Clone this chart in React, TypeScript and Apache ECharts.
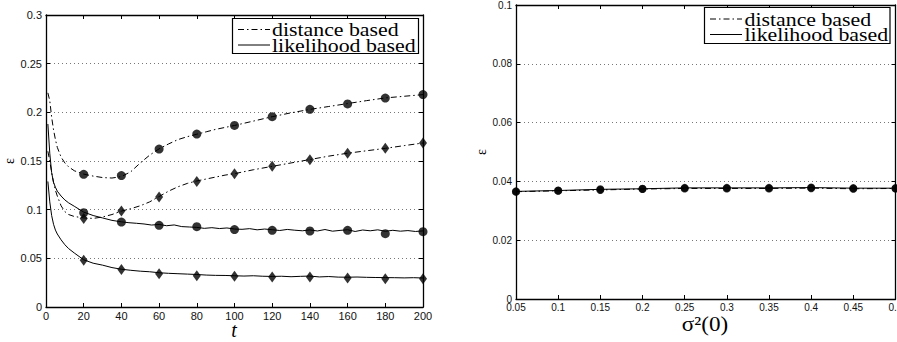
import React, { useEffect, useRef } from "react";
import * as echarts from "echarts";

// ---------- Left panel: error vs t ----------
const T_X_TICKS = [0, 20, 40, 60, 80, 100, 120, 140, 160, 180, 200];

// distance based, upper curve (circles)
const T_DIST = [1, 2, 3, 4, 5, 6, 8, 10, 12, 15, 20, 25, 30, 35, 40, 45, 50, 55, 60, 65, 70, 75, 80, 85, 90, 95, 100, 110, 120, 130, 140, 150, 160, 170, 180, 190, 200];
const DIST_UPPER = [0.220, 0.212, 0.195, 0.182, 0.172, 0.164, 0.154, 0.148, 0.144, 0.140, 0.1365, 0.1345, 0.133, 0.1325, 0.134, 0.139, 0.148, 0.156, 0.1625, 0.1675, 0.172, 0.175, 0.1775, 0.180, 0.1825, 0.1845, 0.1865, 0.191, 0.1955, 0.1995, 0.203, 0.206, 0.209, 0.212, 0.2148, 0.2165, 0.2182];
// distance based, lower curve (diamonds)
const DIST_LOWER = [0.160, 0.150, 0.138, 0.128, 0.120, 0.114, 0.104, 0.098, 0.095, 0.093, 0.0915, 0.091, 0.0925, 0.095, 0.0985, 0.101, 0.104, 0.108, 0.1135, 0.119, 0.1235, 0.127, 0.1295, 0.1315, 0.1335, 0.1355, 0.137, 0.141, 0.1445, 0.148, 0.1515, 0.155, 0.158, 0.1605, 0.163, 0.1658, 0.1685];

// likelihood based, upper curve (circles)
const T_LIK_UPPER = [1, 2, 3, 4, 5, 6, 8, 10, 12, 15, 20, 25, 30, 35, 40, 44, 48, 52, 56, 60, 64, 68, 72, 76, 80, 84, 88, 92, 96, 100, 104, 108, 112, 116, 120, 124, 128, 132, 136, 140, 144, 148, 152, 156, 160, 164, 168, 172, 176, 180, 184, 188, 192, 196, 200];
const LIK_UPPER = [0.188, 0.158, 0.138, 0.128, 0.123, 0.119, 0.114, 0.110, 0.107, 0.1035, 0.0975, 0.094, 0.0915, 0.089, 0.0875, 0.0866, 0.0860, 0.0853, 0.0842, 0.0848, 0.0835, 0.0843, 0.0826, 0.0822, 0.0818, 0.0808, 0.0815, 0.0806, 0.0812, 0.0801, 0.0798, 0.0805, 0.0793, 0.0801, 0.0794, 0.0786, 0.0797, 0.0789, 0.0783, 0.0792, 0.0781, 0.0796, 0.0779, 0.0787, 0.0794, 0.0776, 0.0791, 0.0783, 0.0793, 0.0778, 0.0788, 0.0779, 0.0785, 0.0776, 0.0782];

// likelihood based, lower curve (diamonds)
const T_LIK_LOWER = [1, 2, 3, 4, 5, 6, 8, 10, 12, 15, 20, 25, 30, 35, 40, 45, 50, 55, 60, 65, 70, 75, 80, 85, 90, 95, 100, 105, 110, 115, 120, 125, 130, 135, 140, 145, 150, 155, 160, 165, 170, 175, 180, 185, 190, 195, 200];
const LIK_LOWER = [0.129, 0.108, 0.094, 0.085, 0.079, 0.075, 0.069, 0.064, 0.060, 0.0555, 0.0485, 0.045, 0.043, 0.0405, 0.0388, 0.0377, 0.0368, 0.0362, 0.0352, 0.0346, 0.0342, 0.0338, 0.0334, 0.0328, 0.0325, 0.0324, 0.0321, 0.0318, 0.0321, 0.0316, 0.0314, 0.0316, 0.0311, 0.0315, 0.0318, 0.0309, 0.0313, 0.0307, 0.0306, 0.0308, 0.0305, 0.0303, 0.0302, 0.0301, 0.0299, 0.0301, 0.0298];

// marker positions
const T_MARK = [20, 40, 60, 80, 100, 120, 140, 160, 180, 200];
const DIST_UPPER_MARK = [0.1363, 0.135, 0.1623, 0.1777, 0.1866, 0.1955, 0.2031, 0.2086, 0.2147, 0.2182];
const DIST_LOWER_MARK = [0.0908, 0.0986, 0.113, 0.129, 0.137, 0.1445, 0.1514, 0.158, 0.163, 0.1685];
const LIK_UPPER_MARK = [0.0969, 0.0873, 0.0839, 0.0825, 0.0795, 0.0788, 0.0781, 0.0788, 0.0753, 0.0774];
const LIK_LOWER_MARK = [0.048, 0.0384, 0.0342, 0.0322, 0.0315, 0.0308, 0.0308, 0.0298, 0.0291, 0.0291];

// ---------- Right panel: error vs sigma^2(0) ----------
const SIGMA0 = [0.05, 0.1, 0.15, 0.2, 0.25, 0.3, 0.35, 0.4, 0.45, 0.5];
const DIST_SIGMA = [0.0365, 0.0368, 0.0371, 0.0374, 0.0376, 0.0376, 0.0376, 0.0377, 0.0375, 0.0376];
const LIK_SIGMA = [0.0366, 0.0369, 0.0373, 0.0375, 0.0378, 0.0378, 0.0378, 0.0379, 0.0377, 0.0377];

const LEGEND_LABELS = ["distance based", "likelihood based"];

const zip = (xs: number[], ys: number[]) => xs.map((x, i) => [x, ys[i]]);
const fmt = (v: number) => String(parseFloat(v.toFixed(2)));

const DASHDOT = [6, 3, 1.5, 3];
const FRAME = { color: "#000", width: 1.3 };
const SERIF = "'Liberation Serif', 'Times New Roman', serif";
const SANS = "'Liberation Sans', Arial, sans-serif";

function App() {
  const ref = useRef<HTMLDivElement>(null);
  useEffect(() => {
    if (!ref.current) return;
    const chart = echarts.init(ref.current, undefined, { renderer: "svg" });

    const tick = { inside: true, length: 4, lineStyle: { color: "#000", width: 1 } };
    const mainX = (grid: number, min: number, max: number, interval: number, fontSize: number) => ({
      gridIndex: grid,
      type: "value",
      min,
      max,
      interval,
      axisLine: { onZero: false, lineStyle: FRAME },
      axisTick: tick,
      axisLabel: { color: "#111", fontSize, fontFamily: SANS, margin: 3, formatter: fmt, hideOverlap: false },
      splitLine: { show: false },
    });
    const topX = (grid: number, min: number, max: number, interval: number) => ({
      gridIndex: grid,
      type: "value",
      position: "top",
      min,
      max,
      interval,
      axisLine: { onZero: false, lineStyle: FRAME },
      axisTick: tick,
      axisLabel: { show: false },
      splitLine: { show: false },
    });
    const mainY = (grid: number, min: number, max: number, interval: number, fontSize: number, gap: number) => ({
      gridIndex: grid,
      type: "value",
      min,
      max,
      interval,
      name: "ε",
      nameLocation: "middle",
      nameGap: gap,
      nameRotate: 90,
      nameTextStyle: { fontSize: 14, fontFamily: SERIF, color: "#000" },
      axisLine: { onZero: false, lineStyle: FRAME },
      axisTick: tick,
      axisLabel: { color: "#111", fontSize, fontFamily: SANS, margin: 4, formatter: fmt, hideOverlap: false },
      splitLine: { show: true, lineStyle: { color: "#777", width: 1, type: [1, 3] } },
    });
    const rightY = (grid: number, min: number, max: number, interval: number) => ({
      gridIndex: grid,
      type: "value",
      position: "right",
      min,
      max,
      interval,
      axisLine: { onZero: false, lineStyle: FRAME },
      axisTick: tick,
      axisLabel: { show: false },
      splitLine: { show: false },
    });

    const line = (xi: number, data: number[][], dashed: boolean) => ({
      type: "line",
      xAxisIndex: xi,
      yAxisIndex: xi,
      data,
      showSymbol: false,
      symbol: "none",
      lineStyle: { color: "#000", width: 1, type: dashed ? DASHDOT : "solid" },
      z: 3,
    });
    const marks = (xi: number, data: number[][], symbol: string, size: any) => ({
      type: "scatter",
      xAxisIndex: xi,
      yAxisIndex: xi,
      data,
      symbol,
      symbolSize: size,
      itemStyle: { color: "#000" },
      z: 4,
    });

    const legendText = (x: number, y: number, text: string) => ({
      type: "text",
      x,
      y,
      scaleX: 1.12,
      style: { text, fontSize: 19.5, fontFamily: SERIF, fill: "#000", align: "left", verticalAlign: "middle", lineHeight: 16 },
      z: 11,
    });
    const legend = (x0: number, y0: number, w: number, h: number, row1: number, row2: number, lx1: number, lx2: number, tx: number) => [
      { type: "rect", shape: { x: x0, y: y0, width: w, height: h }, style: { fill: "#fff", stroke: "#000", lineWidth: 1.2 }, z: 10 },
      { type: "line", shape: { x1: lx1, y1: row1, x2: lx2, y2: row1 }, style: { stroke: "#000", lineWidth: 1, lineDash: DASHDOT }, z: 11 },
      { type: "line", shape: { x1: lx1, y1: row2, x2: lx2, y2: row2 }, style: { stroke: "#000", lineWidth: 1 }, z: 11 },
      legendText(tx, row1, LEGEND_LABELS[0]),
      legendText(tx, row2, LEGEND_LABELS[1]),
    ];

    chart.setOption({
      animation: false,
      backgroundColor: "#fff",
      grid: [
        { left: 46, top: 15, width: 377, height: 292, containLabel: false, outerBoundsMode: "none" },
        { left: 516, top: 5, width: 379.5, height: 294, containLabel: false, outerBoundsMode: "none" },
      ],
      xAxis: [
        mainX(0, T_X_TICKS[0], T_X_TICKS[T_X_TICKS.length - 1], 20, 11),
        topX(0, 0, 200, 20),
        mainX(1, SIGMA0[0], SIGMA0[SIGMA0.length - 1], 0.05, 10),
        topX(1, 0.05, 0.5, 0.05),
      ],
      yAxis: [
        mainY(0, 0, 0.3, 0.05, 11, 29),
        rightY(0, 0, 0.3, 0.05),
        mainY(1, 0, 0.1, 0.02, 10, 28),
        rightY(1, 0, 0.1, 0.02),
      ],
      series: [
        line(0, zip(T_DIST, DIST_UPPER), true),
        line(0, zip(T_DIST, DIST_LOWER), true),
        line(0, zip(T_LIK_UPPER, LIK_UPPER), false),
        line(0, zip(T_LIK_LOWER, LIK_LOWER), false),
        marks(0, zip(T_MARK, DIST_UPPER_MARK), "circle", 9),
        marks(0, zip(T_MARK, DIST_LOWER_MARK), "diamond", [8, 11]),
        marks(0, zip(T_MARK, LIK_UPPER_MARK), "circle", 9),
        marks(0, zip(T_MARK, LIK_LOWER_MARK), "diamond", [8, 11]),
        { ...line(2, zip(SIGMA0, DIST_SIGMA), true), yAxisIndex: 2 },
        { ...line(2, zip(SIGMA0, LIK_SIGMA), false), yAxisIndex: 2 },
        { ...marks(2, zip(SIGMA0, DIST_SIGMA), "circle", 8), yAxisIndex: 2 },
        { ...marks(2, zip(SIGMA0, LIK_SIGMA), "circle", 8), yAxisIndex: 2 },
      ],
      graphic: [
        ...legend(232.5, 18.5, 186, 35, 29.5, 45, 238, 270, 272),
        ...legend(704.5, 7.5, 185.5, 36, 19, 34.5, 710, 742, 744.5),
        { type: "text", x: 234, y: 330, style: { text: "t", fontSize: 20, fontStyle: "italic", fontFamily: SERIF, fill: "#000", align: "center", verticalAlign: "middle", lineHeight: 16 } },
        { type: "text", x: 705, y: 324, scaleX: 1.1, style: { text: "σ²(0)", fontSize: 21, fontFamily: SERIF, fill: "#000", align: "center", verticalAlign: "middle", lineHeight: 18 } },
      ],
    } as any);
    return () => chart.dispose();
  }, []);
  return <div ref={ref} style={{ position: "absolute", left: 0, top: 0, width: 897, height: 342 }} />;
}

export default App;
